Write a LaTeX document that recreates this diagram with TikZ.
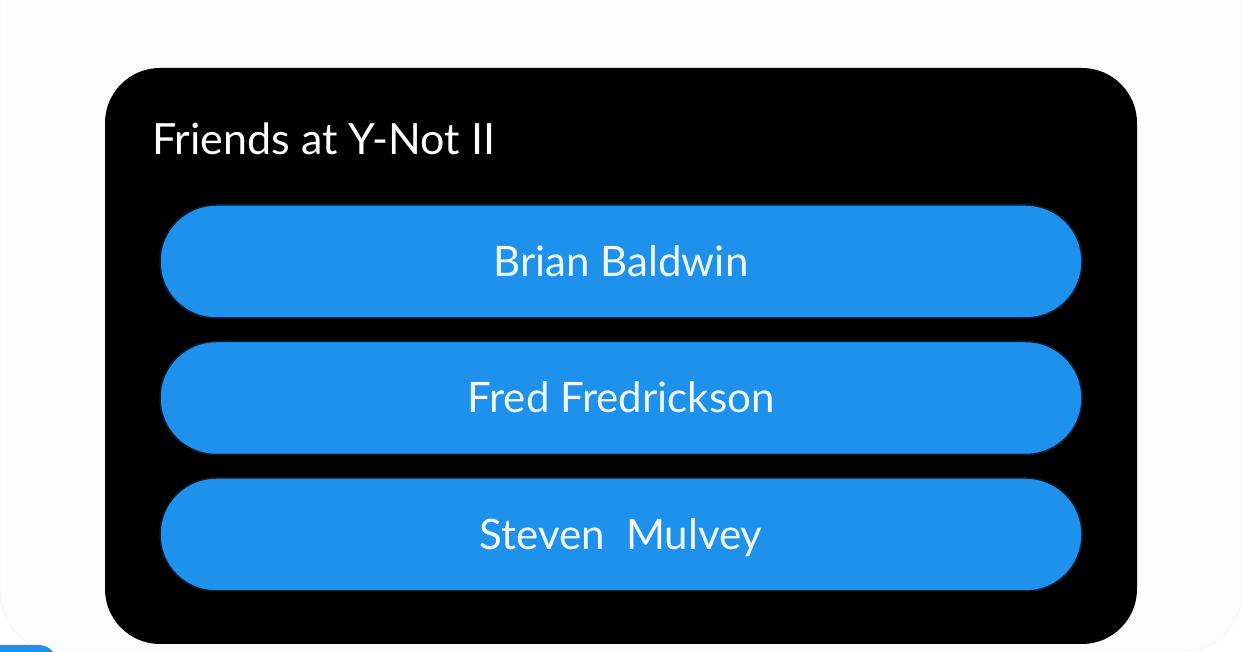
\documentclass[tikz,border=0pt]{standalone}
\usepackage{fontspec}
\setmainfont{Lato}
\usetikzlibrary{positioning}
\definecolor{btnblue}{RGB}{29,145,236}
\definecolor{btnedge}{RGB}{12,28,48}
\definecolor{btntext}{RGB}{240,248,255}
\tikzset{
  friend/.style={draw=btnedge,line width=1.5pt,fill=btnblue,rounded corners=56pt,
    minimum width=922pt,minimum height=113pt,inner sep=0pt,text=btntext,
    text height=30pt,text depth=0pt,font=\fontsize{42}{50}\selectfont},
  heading/.style={text=white,inner sep=0pt,anchor=base west,font=\fontsize{43}{50}\selectfont}
}
\begin{document}
\begin{tikzpicture}[x=1pt,y=1pt,node distance=22pt]
\useasboundingbox(0,0) rectangle (1242,652);
\fill[white](0,0) rectangle (1242,652);
\begin{scope}
\clip(0,0) rectangle (1242,652);
\draw[black!5,fill=black!1,rounded corners=60pt](0,0) rectangle (1242,760);
\fill[btnblue,rounded corners=20pt](-100,-50) rectangle (58,7);
\end{scope}
\fill[black,rounded corners=55pt](105,8) rectangle (1137,584);
\node[heading](title) at (152,497) {Friends at Y-Not II};
\node[friend](brian) at (621,390.5) {Brian Baldwin};
\node[friend,below=of brian](fred) {Fred Fredrickson};
\node[friend,below=of fred](steven) {Steven\ \ Mulvey};
\end{tikzpicture}
\end{document}
